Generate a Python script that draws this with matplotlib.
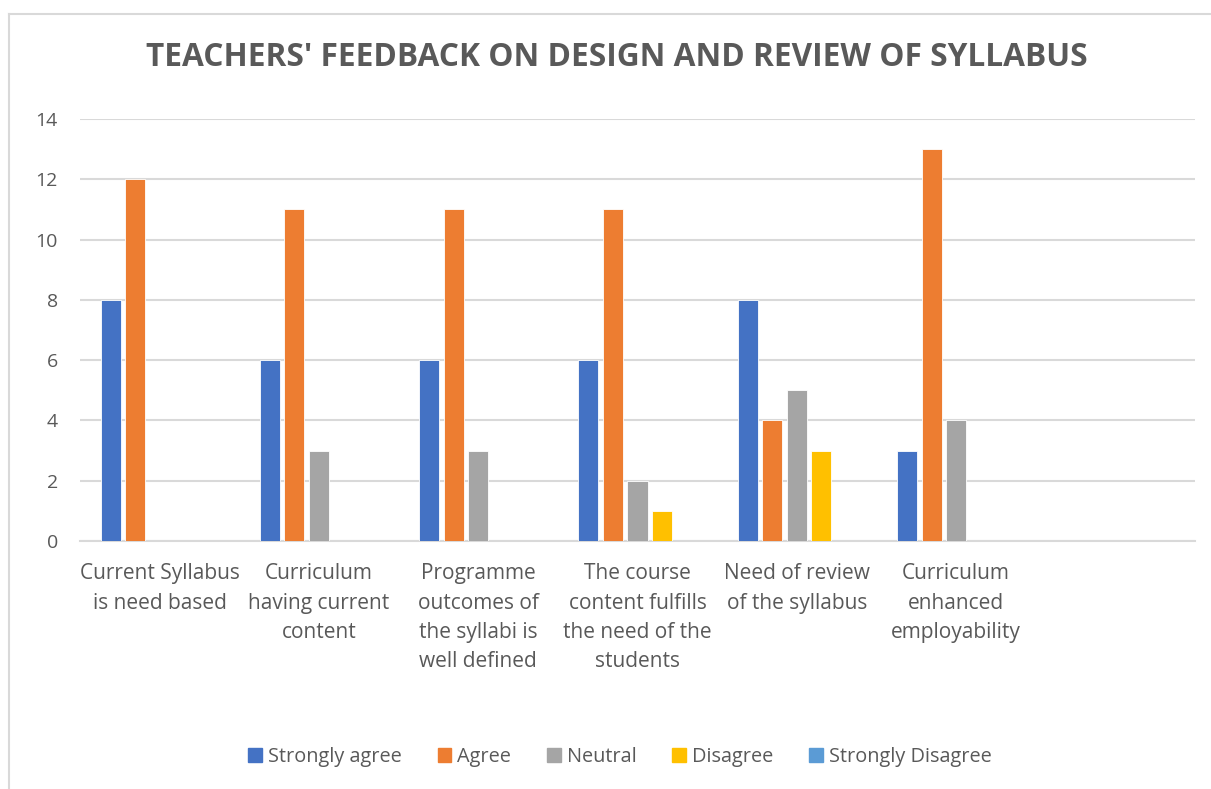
import numpy as np
import matplotlib.pyplot as plt
from matplotlib.lines import Line2D

plt.rcParams['font.family'] = ['Open Sans', 'DejaVu Sans']

categories = ["Current Syllabus\nis need based",
              "Curriculum\nhaving current\ncontent",
              "Programme\noutcomes of\nthe syllabi is\nwell defined",
              "The course\ncontent fulfills\nthe need of the\nstudents",
              "Need of review\nof the syllabus",
              "Curriculum\nenhanced\nemployability",
              ""]
series = ["Strongly agree", "Agree", "Neutral", "Disagree", "Strongly Disagree"]
strongly_agree = [8, 6, 6, 6, 8, 3, 0]
agree = [12, 11, 11, 11, 4, 13, 0]
neutral = [0, 3, 3, 2, 5, 4, 0]
disagree = [0, 0, 0, 1, 3, 0, 0]
strongly_disagree = [0, 0, 0, 0, 0, 0, 0]
values = [strongly_agree, agree, neutral, disagree, strongly_disagree]
colors = ["#4472C4", "#ED7D31", "#A5A5A5", "#FFC000", "#5B9BD5"]

txt = "#595959"
grid = "#D9D9D9"

fig = plt.figure(figsize=(12.11, 7.89), dpi=100)
ax = fig.add_axes([80/1211, 1-541/789, 1115/1211, 422/789])

x = np.arange(len(categories))
pitch = 0.154
width = 0.126
for k, (name, vals, c) in enumerate(zip(series, values, colors)):
    ax.bar(x + (k - 2) * pitch, vals, width, color=c, label=name,
           edgecolor="white", linewidth=0.6, zorder=3)

ax.set_xlim(-0.5, len(categories) - 0.5)
ax.set_ylim(0, 14)
ax.set_yticks(range(0, 15, 2))
ax.yaxis.grid(True, color=grid, linewidth=1.5, zorder=0)
ax.set_axisbelow(True)
for s in ["top", "right", "left"]:
    ax.spines[s].set_visible(False)
ax.spines["bottom"].set_color(grid)
ax.spines["bottom"].set_linewidth(1.5)
ax.tick_params(axis="y", length=0, pad=16, labelsize=14, labelcolor=txt)
ax.tick_params(axis="x", length=0, pad=16, labelsize=15, labelcolor=txt)
ax.set_xticks(x)
ax.set_xticklabels(categories, va="top", linespacing=1.52)

fig.text(617/1211, 1-58/789, "TEACHERS' FEEDBACK ON DESIGN AND REVIEW OF SYLLABUS",
         ha="center", va="center", fontsize=22.8, fontweight="bold", color=txt)

handles = [plt.Rectangle((0, 0), 1, 1, color=c) for c in colors]
fig.legend(handles, series, loc="center", bbox_to_anchor=(620/1211, 1-757/789),
           ncol=5, frameon=False, fontsize=14.3, labelcolor=txt,
           handlelength=0.7, handleheight=0.7, handletextpad=0.3, columnspacing=1.8)

# chart frame (left and top edges visible)
fig.add_artist(Line2D([9/1211, 9/1211], [0, 1-14/789], color=grid, linewidth=1.5,
                      transform=fig.transFigure))
fig.add_artist(Line2D([9/1211, 1], [1-14/789, 1-14/789], color=grid, linewidth=1.5,
                      transform=fig.transFigure))

fig.savefig("out.png", dpi=100)
